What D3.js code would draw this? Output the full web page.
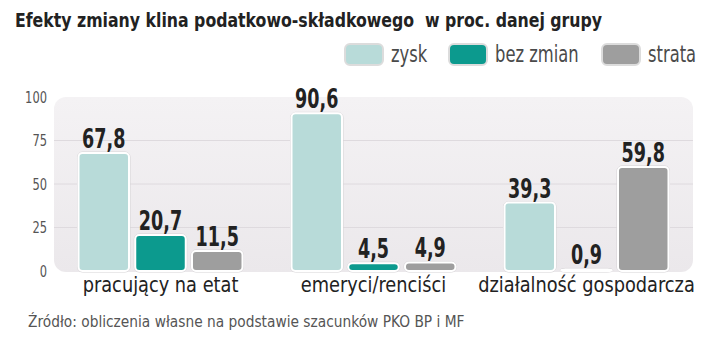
<!DOCTYPE html>
<html><head><meta charset="utf-8">
<script src="https://cdn.jsdelivr.net/npm/d3@7"></script>
<style>
body{margin:0;background:#fff;}
svg{display:block;}
text{font-family:"DejaVu Sans Condensed","Liberation Sans Narrow","Roboto",sans-serif;font-stretch:condensed;}
</style></head>
<body><svg id="c" width="720" height="346"></svg>
<script>
const title = "Efekty zmiany klina podatkowo-składkowego  w proc. danej grupy";
const source = "Źródło: obliczenia własne na podstawie szacunków PKO BP i MF";
const categories = ["pracujący na etat", "emeryci/renciści", "działalność gospodarcza"];
const seriesNames = ["zysk", "bez zmian", "strata"];
const zysk = [67.8, 90.6, 39.3];
const bezZmian = [20.7, 4.5, 0.9];
const strata = [11.5, 4.9, 59.8];
const yTicks = [0, 25, 50, 75, 100];
const colors = ["#b8dbd9", "#0c9a8e", "#9e9e9e"];

const seriesVals = [zysk, bezZmian, strata];
const svg = d3.select("#c");

// horizontally compress text to emulate the narrow typeface
function squeeze(sel, f) {
  sel.each(function() {
    const w = this.getComputedTextLength();
    d3.select(this).attr("textLength", w * f).attr("lengthAdjust", "spacingAndGlyphs");
  });
}

const plot = {left: 54, right: 693, top: 97, bottom: 271};
const x0 = d3.scaleBand().domain(categories).range([plot.left, plot.right]);
const x1 = d3.scaleBand().domain(seriesNames).range([0, 164]).paddingInner(0.11);
const y = d3.scaleLinear().domain([0, 100]).range([plot.bottom, plot.top]);

const defs = svg.append("defs");
const grad = defs.append("linearGradient").attr("id","bg").attr("x1",0).attr("y1",0).attr("x2",0).attr("y2",1);
grad.append("stop").attr("offset","0%").attr("stop-color","#f4f2f4");
grad.append("stop").attr("offset","100%").attr("stop-color","#ebe8eb");

// title
svg.append("text").attr("x", 15).attr("y", 27)
  .attr("font-size", 20).attr("font-weight", "bold").attr("fill", "#222")
  .style("white-space", "pre")
  .text(title).call(squeeze, 0.875);

// legend
const legX = [345, 449, 602];
const leg = svg.append("g");
seriesNames.forEach((s, i) => {
  leg.append("rect").attr("x", legX[i]).attr("y", 44).attr("width", 38).attr("height", 21)
    .attr("rx", 5).attr("fill", colors[i]).attr("stroke", "#dcdcdc").attr("stroke-width", 2);
  leg.append("text").attr("x", legX[i] + 46).attr("y", 62)
    .attr("font-size", 23).attr("fill", "#4a4a4a").text(s).call(squeeze, 0.79);
});

// background panel
svg.append("rect").attr("x", plot.left).attr("y", plot.top)
  .attr("width", plot.right - plot.left).attr("height", plot.bottom - plot.top + 1)
  .attr("rx", 12).attr("fill", "url(#bg)");

// gridlines
svg.append("g").selectAll("line").data(yTicks.filter(t => t > 0 && t < 100)).join("line")
  .attr("x1", plot.left).attr("x2", plot.right)
  .attr("y1", d => y(d)).attr("y2", d => y(d))
  .attr("stroke", "#dedade").attr("stroke-width", 1);

// y axis
const yAxis = d3.axisLeft(y).tickValues(yTicks).tickSize(0).tickPadding(0);
const ga = svg.append("g").attr("transform", `translate(47,0)`).call(yAxis);
ga.select(".domain").remove();
ga.selectAll("text").attr("font-size", 15).attr("fill", "#555")
  .style("font-family", '"DejaVu Sans Condensed",sans-serif')
  .attr("dy", "0.35em").call(squeeze, 0.85);

// bars
const groups = svg.append("g").selectAll("g").data(categories).join("g")
  .attr("transform", d => `translate(${x0(d) + x0.bandwidth()/2 - 82},0)`);

groups.each(function(cat, ci) {
  const g = d3.select(this);
  seriesNames.forEach((s, si) => {
    const v = seriesVals[si][ci];
    const bx = x1(s), bw = x1.bandwidth();
    const top = y(v), h = Math.max(y(0) - top, 0);
    g.append("rect").attr("x", bx - 1).attr("y", top - 1).attr("width", bw + 2).attr("height", h + 2)
      .attr("rx", 5).attr("fill", "none").attr("stroke", "#d6d3d6").attr("stroke-width", 1);
    g.append("rect").attr("x", bx).attr("y", top).attr("width", bw).attr("height", h)
      .attr("rx", 4).attr("fill", colors[si]).attr("stroke", "#fff").attr("stroke-width", 2);
    g.append("text").attr("x", bx + bw/2).attr("y", top - 5)
      .attr("text-anchor", "middle").attr("font-size", 26).attr("font-weight", "bold")
      .attr("fill", "#222").text(d3.format(".1f")(v).replace(".", ","))
      .call(squeeze, 0.75);
  });
});

// x axis labels
const xAxis = d3.axisBottom(x0).tickSize(0).tickPadding(0);
const gx = svg.append("g").attr("transform", `translate(0,292)`).call(xAxis);
gx.select(".domain").remove();
gx.selectAll("text").attr("font-size", 21).attr("fill", "#222").attr("dy", 0)
  .style("font-family", '"DejaVu Sans Condensed",sans-serif')
  .call(squeeze, 0.94);

// source
svg.append("text").attr("x", 28).attr("y", 327).attr("font-size", 15).attr("fill", "#555")
  .text(source).call(squeeze, 1.02);
</script></body></html>
